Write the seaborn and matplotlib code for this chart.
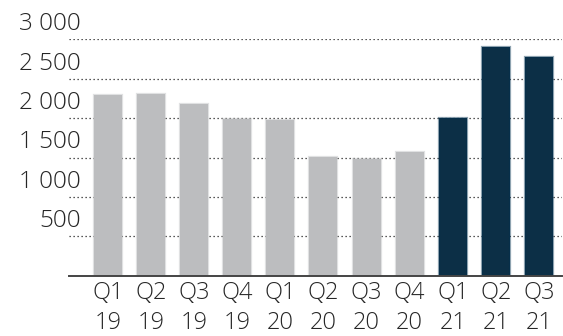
import matplotlib
matplotlib.use("Agg")
import matplotlib.pyplot as plt
import seaborn as sns
import pandas as pd

quarters = ["Q1", "Q2", "Q3", "Q4", "Q1", "Q2", "Q3", "Q4", "Q1", "Q2", "Q3"]
years = ["19", "19", "19", "19", "20", "20", "20", "20", "21", "21", "21"]
values = [2290, 2310, 2185, 1990, 1975, 1505, 1485, 1575, 1995, 2900, 2780]
periods = ["past", "past", "past", "past", "past", "past", "past", "past",
           "current", "current", "current"]
y_ticks = [500, 1000, 1500, 2000, 2500, 3000]

palette = {"past": "#bcbdbf", "current": "#03314f"}
text_color = "#262626"

df = pd.DataFrame({
    "label": [f"{q}\n{y}" for q, y in zip(quarters, years)],
    "value": values,
    "period": periods,
})

sns.set_theme(style="white")
plt.rcParams["font.family"] = ["Open Sans", "DejaVu Sans"]

fig = plt.figure(figsize=(5.63, 3.36), dpi=100)
ax = fig.add_axes([69 / 563, 1 - 275.7 / 336, (562 - 69) / 563, (275.7 - 39.3) / 336])

# dotted gridlines behind the bars
for t in y_ticks:
    ax.axhline(t, color="#222222", linestyle=(0, (1, 2.2)), linewidth=0.9, zorder=0)

sns.barplot(data=df, x="label", y="value", hue="period", palette=palette,
            width=0.65, dodge=False, legend=False, ax=ax, zorder=2)

# soft halo round each bar
for patch, p in zip(ax.patches, df["period"]):
    patch.set_linewidth(1.6)
    patch.set_edgecolor(matplotlib.colors.to_rgba(palette[p], 0.45))

ax.set_xlim(-0.9, 10.53)
ax.set_ylim(0, 3000)
ax.set_xlabel("")
ax.set_ylabel("")
ax.set_yticks([])

for s in ["top", "right", "left"]:
    ax.spines[s].set_visible(False)
ax.spines["bottom"].set_color("#444444")
ax.spines["bottom"].set_linewidth(1.4)
ax.spines["bottom"].set_zorder(3)

ax.tick_params(axis="x", length=0, pad=4, labelsize=17, labelcolor=text_color)
for lbl in ax.get_xticklabels():
    lbl.set_fontweight("light")
    lbl.set_linespacing(1.3)

# value labels sit just above their gridlines, left of the plot
for t in y_ticks:
    ax.annotate(f"{t:,}".replace(",", " ") if t >= 1000 else f"{t}",
                xy=(0, t), xycoords=ax.get_yaxis_transform(),
                xytext=(12, 3), textcoords="offset pixels",
                ha="right", va="bottom", fontsize=17.5, fontweight="light",
                color=text_color, annotation_clip=False)

fig.savefig("out.png", dpi=100)
